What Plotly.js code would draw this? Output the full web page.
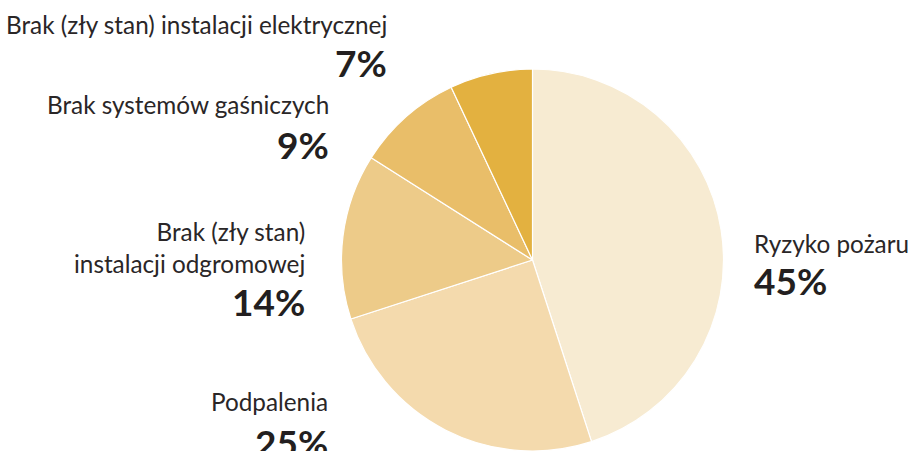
<!DOCTYPE html>
<html>
<head>
<meta charset="utf-8">
<script src="https://cdn.plot.ly/plotly-3.0.1.min.js"></script>
<style>html,body{margin:0;padding:0;background:#fff;overflow:hidden}#chart{width:908px;height:451px}</style>
</head>
<body>
<div id="chart"></div>
<script>
const labels = ["Ryzyko pożaru", "Podpalenia", "Brak (zły stan)<br>instalacji odgromowej", "Brak systemów gaśniczych", "Brak (zły stan) instalacji elektrycznej"];
const values = [45, 25, 14, 9, 7];
const colors = ["#F7EBD2", "#F4DAAD", "#EDCB89", "#E9BE69", "#E3B140"];

const W = 908, H = 451;
// label placement in pixels: [x, nameY, pctY, anchor]
const placement = [
  [752, 243, 280, "left"],
  [330, 401, 442, "right"],
  [307, 247, 301, "right"],
  [331, 104, 144, "right"],
  [389, 24, 63, "right"]
];
const annotations = [];
labels.forEach((lab, i) => {
  const p = placement[i];
  annotations.push({
    xref: "paper", yref: "paper", x: p[0] / W, y: 1 - p[1] / H,
    xanchor: p[3], yanchor: "middle", align: p[3], showarrow: false,
    text: lab, font: {family: "Lato", size: 24.3, color: "#2A2627"}
  });
  annotations.push({
    xref: "paper", yref: "paper", x: p[0] / W, y: 1 - p[2] / H,
    xanchor: p[3], yanchor: "middle", align: p[3], showarrow: false,
    text: "<b>" + values[i] + "%</b>", font: {family: "Lato", size: 37, color: "#231F20"}
  });
});

const data = [{
  type: "pie",
  labels: labels,
  values: values,
  sort: false,
  direction: "clockwise",
  rotation: 0,
  textinfo: "none",
  hoverinfo: "label+percent",
  marker: {colors: colors, line: {color: "#FFFFFF", width: 1.2}},
  domain: {x: [(532.5 - 193) / W, (532.5 + 193) / W], y: [0, 382 / H]},
  showlegend: false
}];

const layout = {
  width: W, height: H,
  margin: {l: 0, r: 0, t: 0, b: 0},
  paper_bgcolor: "#FFFFFF",
  showlegend: false,
  annotations: annotations
};
Plotly.newPlot("chart", data, layout, {displayModeBar: false, staticPlot: true});
</script>
</body>
</html>
